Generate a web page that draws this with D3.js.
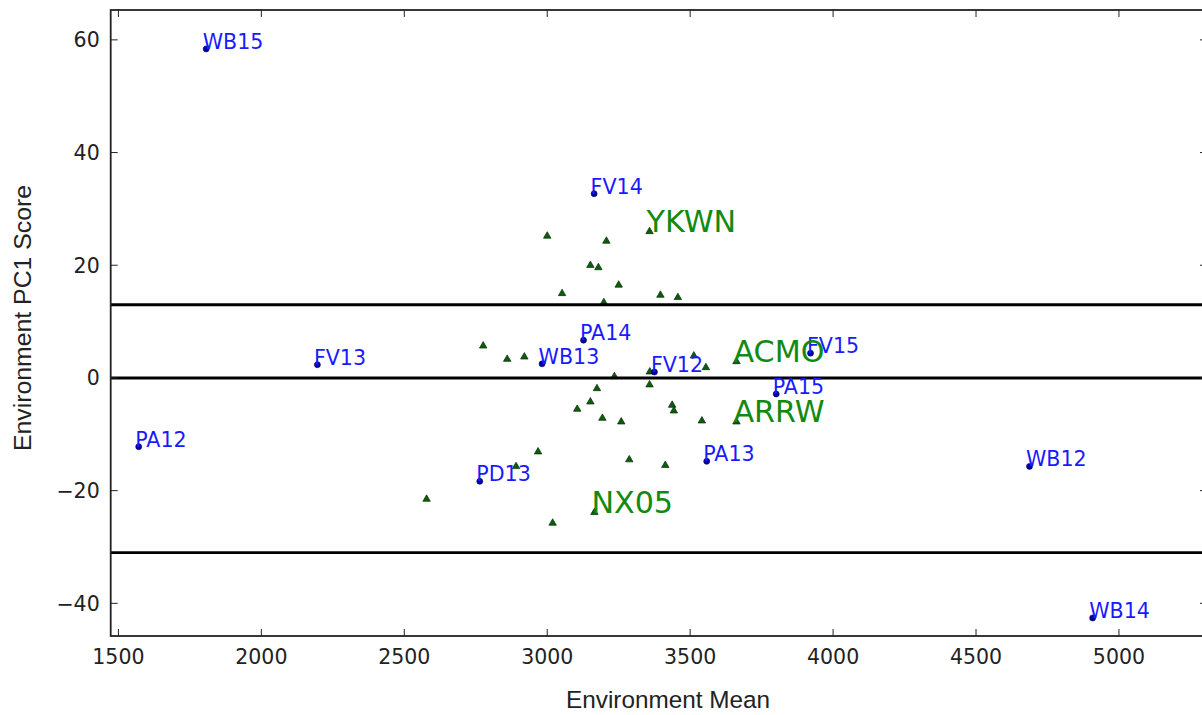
<!DOCTYPE html>
<html>
<head>
<meta charset="utf-8">
<script src="https://cdn.jsdelivr.net/npm/d3@7"></script>
<style>
  html, body { margin: 0; padding: 0; background: #fff; overflow: hidden; }
  svg { display: block; }
</style>
</head>
<body>
<svg id="chart" width="1202" height="715"></svg>
<script>
// ---- data ----
const envNames = ["WB15","FV14","PA14","WB13","FV12","PA15","FV13","PA12","PD13","PA13","FV15","WB12","WB14"];
const envMean  = [1807, 3164, 3127, 2982, 3375, 3801, 2196, 1571, 2764, 3558, 3921, 4687, 4908];
const envScore = [58.4, 32.7, 6.7, 2.5, 1.05, -2.85, 2.35, -12.2, -18.35, -14.8, 4.4, -15.7, -42.6];

const lineX = [3000, 3207, 3358, 3151, 3179, 3250, 3052, 3396, 3457, 3198,
               2776, 2860, 2920, 3513, 3555, 3662, 3359, 3235, 3174, 3358,
               3151, 3105, 3193, 3259, 3437, 3443, 3541, 3662, 2968, 3287,
               3413, 2891, 2578, 3165, 3019];
const lineY = [25.1, 24.2, 25.9, 19.9, 19.5, 16.4, 14.9, 14.6, 14.2, 13.3,
               5.6, 3.24, 3.65, 3.83, 1.76, 2.82, 0.99, 0.17, -1.97, -1.3,
               -4.33, -5.63, -7.23, -7.88, -4.92, -5.93, -7.7, -7.88, -13.2, -14.6,
               -15.6, -15.8, -21.6, -23.96, -25.85];
const labeledLines = ["YKWN", "ACMO", "ARRW", "NX05"];
const labeledIdx   = [2, 15, 27, 33];

const hLines = [13, 0, -31];
const xTicks = [1500, 2000, 2500, 3000, 3500, 4000, 4500, 5000];
const yTicks = [-40, -20, 0, 20, 40, 60];
const xLabel = "Environment Mean";
const yLabel = "Environment PC1 Score";

// ---- layout ----
const L = 110.7, R = 1207, T = 10, B = 636;
const svg = d3.select("#chart");
const x = d3.scaleLinear().domain([1473, 5308]).range([L, R]);
const y = d3.scaleLinear().domain([-45.8, 65.3]).range([B, T]);

const tickFont = "'DejaVu Sans', sans-serif";

// triangles
const tri = d3.symbol().type(d3.symbolTriangle).size(24);
svg.append("g").selectAll("path").data(lineX).join("path")
  .attr("d", tri)
  .attr("transform", (d, i) => `translate(${x(d)},${y(lineY[i]) - 0.5})`)
  .attr("fill", "#0b5e0b").attr("stroke", "#0a2a0a").attr("stroke-width", 0.7);

// dots
svg.append("g").selectAll("circle").data(envMean).join("circle")
  .attr("cx", d => x(d)).attr("cy", (d, i) => y(envScore[i]))
  .attr("r", 3).attr("fill", "#0000b0").attr("stroke", "#000033").attr("stroke-width", 0.6);

// horizontal lines
svg.append("g").selectAll("line").data(hLines).join("line")
  .attr("x1", L).attr("x2", R)
  .attr("y1", d => y(d)).attr("y2", d => y(d))
  .attr("stroke", "#000").attr("stroke-width", 2.9);

// labels for environments
svg.append("g").selectAll("text").data(envNames).join("text")
  .attr("x", (d, i) => x(envMean[i]) - 3.5)
  .attr("y", (d, i) => y(envScore[i]))
  .attr("font-family", tickFont).attr("font-size", 20.6)
  .attr("fill", "#1a1aff")
  .text(d => d);

// labels for lines
svg.append("g").selectAll("text").data(labeledLines).join("text")
  .attr("x", (d, i) => x(lineX[labeledIdx[i]]) - 3)
  .attr("y", (d, i) => y(lineY[labeledIdx[i]]))
  .attr("font-family", tickFont).attr("font-size", 30.2)
  .attr("fill", "#128a12")
  .text(d => d);

// axes frame
svg.append("rect").attr("x", L).attr("y", T).attr("width", R - L).attr("height", B - T)
  .attr("fill", "none").attr("stroke", "#222").attr("stroke-width", 1.8);

const tickLen = 7;
// x ticks (inward, bottom and top)
const gx = svg.append("g");
gx.selectAll("line.b").data(xTicks).join("line").attr("class", "b")
  .attr("x1", d => x(d)).attr("x2", d => x(d)).attr("y1", B).attr("y2", B - tickLen)
  .attr("stroke", "#222").attr("stroke-width", 1);
gx.selectAll("line.t").data(xTicks).join("line").attr("class", "t")
  .attr("x1", d => x(d)).attr("x2", d => x(d)).attr("y1", T).attr("y2", T + tickLen)
  .attr("stroke", "#222").attr("stroke-width", 1);
gx.selectAll("text").data(xTicks).join("text")
  .attr("x", d => x(d)).attr("y", B + 28)
  .attr("text-anchor", "middle")
  .attr("font-family", tickFont).attr("font-size", 20.5).attr("fill", "#222")
  .text(d => d);

// y ticks (inward, left and right)
const gy = svg.append("g");
gy.selectAll("line.l").data(yTicks).join("line").attr("class", "l")
  .attr("x1", L).attr("x2", L + tickLen).attr("y1", d => y(d)).attr("y2", d => y(d))
  .attr("stroke", "#222").attr("stroke-width", 1);
gy.selectAll("line.r").data(yTicks).join("line").attr("class", "r")
  .attr("x1", R).attr("x2", R - tickLen).attr("y1", d => y(d)).attr("y2", d => y(d))
  .attr("stroke", "#222").attr("stroke-width", 1);
gy.selectAll("text").data(yTicks).join("text")
  .attr("x", L - 11).attr("y", d => y(d)).attr("dy", "0.36em")
  .attr("text-anchor", "end")
  .attr("font-family", tickFont).attr("font-size", 20.5).attr("fill", "#222")
  .text(d => d < 0 ? "\u2212" + Math.abs(d) : d);

// axis titles
svg.append("text")
  .attr("x", 668).attr("y", 708)
  .attr("text-anchor", "middle")
  .attr("font-family", "'Liberation Sans', Arial, sans-serif").attr("font-size", 24.3).attr("fill", "#222")
  .text(xLabel);
svg.append("text")
  .attr("transform", "translate(31,318) rotate(-90)")
  .attr("text-anchor", "middle")
  .attr("font-family", "'Liberation Sans', Arial, sans-serif").attr("font-size", 24.8).attr("fill", "#222")
  .text(yLabel);
</script>
</body>
</html>
